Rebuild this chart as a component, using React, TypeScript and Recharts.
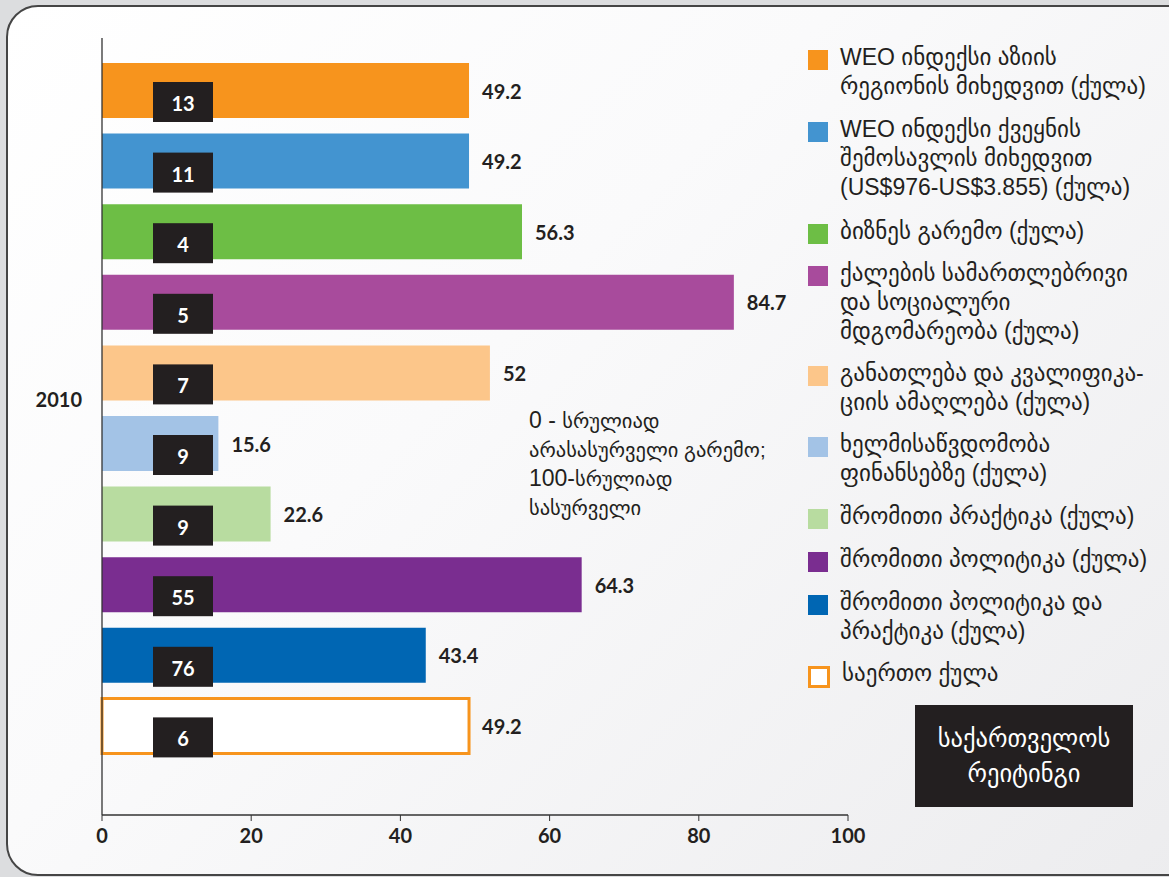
import React from 'react';
import { BarChart, Bar, XAxis, YAxis, LabelList } from 'recharts';

const years = ['2010'];
const seriesNames = [
  'WEO ინდექსი აზიის\nრეგიონის მიხედვით (ქულა)',
  'WEO ინდექსი ქვეყნის\nშემოსავლის მიხედვით\n(US$976-US$3.855) (ქულა)',
  'ბიზნეს გარემო (ქულა)',
  'ქალების სამართლებრივი\nდა სოციალური\nმდგომარეობა (ქულა)',
  'განათლება და კვალიფიკა-\nციის ამაღლება (ქულა)',
  'ხელმისაწვდომობა\nფინანსებზე (ქულა)',
  'შრომითი პრაქტიკა (ქულა)',
  'შრომითი პოლიტიკა (ქულა)',
  'შრომითი პოლიტიკა და\nპრაქტიკა (ქულა)',
  'საერთო ქულა',
];
const scores = [49.2, 49.2, 56.3, 84.7, 52, 15.6, 22.6, 64.3, 43.4, 49.2];
const ranks = [13, 11, 4, 5, 7, 9, 9, 55, 76, 6];
const barColors = ['#f7941d', '#4394d0', '#6dbe45', '#a84b9c', '#fcc68a', '#a3c3e6', '#b8dca0', '#7a2d90', '#0066b3', '#ffffff'];
const xTicks = [0, 20, 40, 60, 80, 100];

const legendTops = [43, 115, 217, 259, 359, 430, 502, 545, 588, 659];

const INK = '#231f20';
const NUM_FONT = 'Lato, "Open Sans", sans-serif';
const TEXT_FONT = '"Liberation Sans", "DejaVu Sans", sans-serif';

const data = years.map((year) => {
  const row: { [key: string]: string | number } = { year };
  scores.forEach((v, i) => {
    row[`s${i}`] = v;
  });
  return row;
});

function RankBox(props: any) {
  const { x, y, value } = props;
  return (
    <g>
      <rect x={x + 51} y={y + 19} width={60} height={40} fill={INK} />
      <text x={x + 81} y={y + 40} fill="#fff" fontFamily={NUM_FONT} fontWeight={700} fontSize={20} textAnchor="middle" dominantBaseline="central">
        {value}
      </text>
    </g>
  );
}

function ValueLabel(props: any) {
  const { x, y, width, height, value } = props;
  return (
    <text x={x + width + 13} y={y + height / 2} fill={INK} fontFamily={NUM_FONT} fontWeight={700} fontSize={20} dominantBaseline="central">
      {value}
    </text>
  );
}

const latin = { fontSize: 23 };

export default function App() {
  return (
    <div style={{ position: 'absolute', left: 0, top: 0, width: 1169, height: 877, background: '#dcdddf', overflow: 'hidden' }}>
      <div
        style={{
          position: 'absolute',
          left: 6,
          top: 5,
          width: 1200,
          height: 867,
          borderRadius: 32,
          border: '2px solid #454545',
          background: 'linear-gradient(135deg, #ffffff 0%, #fafafb 40%, #ececee 100%)',
        }}
      />
      <div style={{ position: 'absolute', left: 0, top: 0 }}>
        <BarChart
          width={1169}
          height={877}
          data={data}
          layout="vertical"
          margin={{ top: 38, right: 321, bottom: 22, left: 0 }}
          barSize={55}
          barGap={15.6}
        >
          <XAxis
            type="number"
            domain={[0, 100]}
            ticks={xTicks}
            height={40}
            axisLine={{ stroke: '#333', strokeWidth: 1.3 }}
            tickLine={{ stroke: '#333' }}
            tickSize={6}
            tickMargin={8}
            tick={{ fill: INK, fontFamily: NUM_FONT, fontWeight: 700, fontSize: 20 }}
          />
          <YAxis
            type="category"
            dataKey="year"
            width={102}
            padding={{ top: 17, bottom: 54 }}
            axisLine={{ stroke: '#333', strokeWidth: 1.3 }}
            tickLine={false}
            tickSize={0}
            tickMargin={20}
            tick={{ fill: INK, fontFamily: NUM_FONT, fontWeight: 700, fontSize: 20, dy: -8 }}
          />
          {scores.map((_, i) => (
            <Bar
              key={i}
              dataKey={`s${i}`}
              fill={barColors[i]}
              stroke={i === scores.length - 1 ? '#f7941d' : 'none'}
              strokeWidth={3}
              isAnimationActive={false}
            >
              <LabelList dataKey={() => ranks[i]} content={RankBox} />
              <LabelList dataKey={`s${i}`} content={ValueLabel} />
            </Bar>
          ))}
        </BarChart>
      </div>

      <div
        style={{
          position: 'absolute',
          left: 529,
          top: 406,
          fontFamily: TEXT_FONT,
          fontSize: 20.5,
          lineHeight: '29px',
          color: INK,
          whiteSpace: 'pre',
        }}
      >
        <div><span style={latin}>0 - </span>სრულიად</div>
        <div>არასასურველი გარემო;</div>
        <div><span style={latin}>100-</span>სრულიად</div>
        <div>სასურველი</div>
      </div>

      {seriesNames.map((name, i) => {
        const last = i === seriesNames.length - 1;
        return (
          <div key={i} style={{ position: 'absolute', left: 808, top: legendTops[i], display: 'flex' }}>
            <div
              style={{
                width: last ? 16 : 20,
                height: last ? 16 : 20,
                marginTop: 7,
                background: last ? '#fff' : barColors[i],
                border: last ? '3px solid #f7941d' : 'none',
                flex: 'none',
              }}
            />
            <div
              style={{
                marginLeft: 12,
                fontFamily: TEXT_FONT,
                fontSize: 23,
                lineHeight: '29px',
                color: INK,
                whiteSpace: 'pre',
              }}
            >
              {name}
            </div>
          </div>
        );
      })}

      <div
        style={{
          position: 'absolute',
          left: 915,
          top: 705,
          width: 218,
          height: 102,
          background: INK,
          color: '#fff',
          fontFamily: TEXT_FONT,
          fontSize: 24.5,
          lineHeight: '35px',
          textAlign: 'center',
          display: 'flex',
          flexDirection: 'column',
          justifyContent: 'center',
        }}
      >
        <div>საქართველოს</div>
        <div>რეიტინგი</div>
      </div>
    </div>
  );
}
